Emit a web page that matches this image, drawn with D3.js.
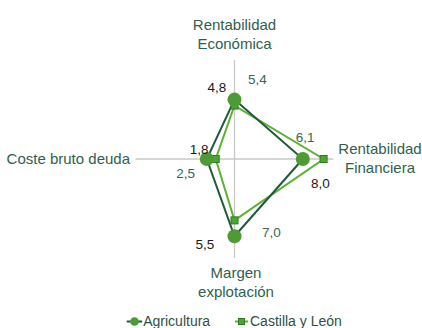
<!DOCTYPE html>
<html>
<head>
<meta charset="utf-8">
<script src="https://cdn.jsdelivr.net/npm/d3@7"></script>
<style>
  body { margin: 0; background: #fff; }
  svg { display: block; }
</style>
</head>
<body>
<script>
// axes, clockwise from the top
var axes = [['Rentabilidad', 'Económica'], ['Rentabilidad', 'Financiera'], ['Margen', 'explotación'], ['Coste bruto deuda']];
var series = ['Agricultura', 'Castilla y León'];
// plotted positions (0-10 scale)
var agriValues = [6.0, 6.9, 7.8, 2.8];
var cylValues = [5.4, 9.0, 6.2, 1.9];
// data label texts shown on the chart
var agriLabels = ['4,8', '8,0', '5,5', '1,8'];
var cylLabels = ['5,4', '6,1', '7,0', '2,5'];

var W = 422, H = 328, cx = 234.5, cy = 159;
var darkLine = '#1f5a3d', lightLine = '#5db233', circleFill = '#4e9a34', sqFill = '#4fa531', sqStroke = '#2f7d20';
var titleCol = '#2f5f4e', font = '"Liberation Sans", Arial, sans-serif';

var svg = d3.select('body').append('svg').attr('width', W).attr('height', H);

var r = d3.scaleLinear().domain([0, 10]).range([0, 99]);
var angle = d3.scaleLinear().domain([0, axes.length]).range([0, 2 * Math.PI]);

function pt(v, i) {
  var a = angle(i);
  return [cx + r(v) * Math.sin(a), cy - r(v) * Math.cos(a)];
}

// axis spokes
svg.selectAll('line.spoke').data(axes).enter().append('line')
  .attr('class', 'spoke')
  .attr('x1', function(d, i) { return pt(0, i)[0]; })
  .attr('y1', function(d, i) { return pt(0, i)[1]; })
  .attr('x2', function(d, i) { return pt(10, i)[0]; })
  .attr('y2', function(d, i) { return pt(10, i)[1]; })
  .attr('stroke', '#c8c8c8').attr('stroke-width', 1.3);

// axis titles
var titlePos = [[234.5, 30, 'middle'], [380, 154, 'middle'], [236, 278, 'middle'], [130, 164, 'end']];
svg.selectAll('text.axis').data(axes).enter().append('text')
  .attr('class', 'axis')
  .attr('x', function(d, i) { return titlePos[i][0]; })
  .attr('y', function(d, i) { return titlePos[i][1]; })
  .attr('text-anchor', function(d, i) { return titlePos[i][2]; })
  .attr('font-family', font).attr('font-size', 15).attr('fill', titleCol)
  .each(function(d, i) {
    var t = d3.select(this);
    d.forEach(function(s, j) {
      t.append('tspan').attr('x', titlePos[i][0]).attr('dy', j ? 19 : 0).text(s);
    });
  });

var line = d3.line().curve(d3.curveLinearClosed);

// Castilla y León polygon (drawn under)
svg.append('path').datum(cylValues.map(pt))
  .attr('d', line).attr('fill', 'none').attr('stroke', lightLine).attr('stroke-width', 2);
// Agricultura polygon
svg.append('path').datum(agriValues.map(pt))
  .attr('d', line).attr('fill', 'none').attr('stroke', darkLine).attr('stroke-width', 2);

svg.selectAll('rect.cyl').data(cylValues).enter().append('rect')
  .attr('class', 'cyl')
  .attr('x', function(d, i) { return pt(d, i)[0] - 3.5; })
  .attr('y', function(d, i) { return pt(d, i)[1] - 3.5; })
  .attr('width', 7).attr('height', 7)
  .attr('fill', sqFill).attr('stroke', sqStroke).attr('stroke-width', 1);

svg.selectAll('circle.agri').data(agriValues).enter().append('circle')
  .attr('class', 'agri')
  .attr('cx', function(d, i) { return pt(d, i)[0]; })
  .attr('cy', function(d, i) { return pt(d, i)[1]; })
  .attr('r', 7).attr('fill', circleFill);

// data labels (offsets from the marker, text centre / baseline)
var agriOff = [[-17.5, -7.5], [17.5, 29], [-29.5, 12.5], [-7.7, -5.5]];
var cylOff = [[23, -22], [-18.5, -17], [37, 17], [-30, 19]];

function addLabels(vals, labels, off, col, cls) {
  svg.selectAll('text.' + cls).data(vals).enter().append('text')
    .attr('class', cls)
    .attr('x', function(d, i) { return pt(d, i)[0] + off[i][0]; })
    .attr('y', function(d, i) { return pt(d, i)[1] + off[i][1]; })
    .attr('text-anchor', 'middle')
    .attr('font-family', font).attr('font-size', 13.5).attr('fill', col)
    .text(function(d, i) { return labels[i]; });
}
addLabels(agriValues, agriLabels, agriOff, '#1a1a1a', 'lab-agri');
addLabels(cylValues, cylLabels, cylOff, '#35694f', 'lab-cyl');

// legend
var legend = svg.append('g').attr('transform', 'translate(0,321.5)');
var legX = [126.7, 235];
series.forEach(function(s, i) {
  var g = legend.append('g').attr('transform', 'translate(' + legX[i] + ',0)');
  g.append('line').attr('x1', 0).attr('x2', i ? 13 : 15.5).attr('y1', 0).attr('y2', 0)
    .attr('stroke', i ? lightLine : darkLine).attr('stroke-width', 2);
  if (i) {
    g.append('rect').attr('x', 3.5).attr('y', -3).attr('width', 6).attr('height', 6)
      .attr('fill', sqFill).attr('stroke', sqStroke);
  } else {
    g.append('circle').attr('cx', 7.8).attr('cy', 0).attr('r', 4.3).attr('fill', circleFill);
  }
  g.append('text').attr('x', i ? 15 : 16.5).attr('y', 4.8)
    .attr('font-family', font).attr('font-size', 14).attr('fill', '#2f4f45')
    .text(s);
});
</script>
</body>
</html>
